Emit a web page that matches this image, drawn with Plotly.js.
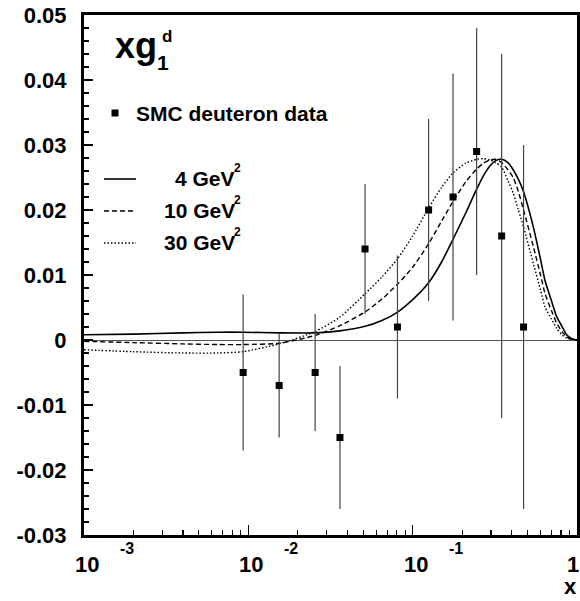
<!DOCTYPE html>
<html><head><meta charset="utf-8">
<script src="https://cdn.plot.ly/plotly-3.0.1.min.js"></script>
<style>html,body{margin:0;padding:0;background:#fff}#chart{width:580px;height:601px}</style>
</head><body><div id="chart"></div>
<script>
// ---- data ----
const dataName = 'SMC deuteron data';
const dataX   = [0.0093, 0.0154, 0.0255, 0.0361, 0.0513, 0.0808, 0.125, 0.176, 0.245, 0.348, 0.473];
const dataY   = [-0.005, -0.007, -0.005, -0.015, 0.014, 0.002, 0.020, 0.022, 0.029, 0.016, 0.002];
const dataErr = [0.012, 0.008, 0.009, 0.011, 0.010, 0.011, 0.014, 0.019, 0.019, 0.028, 0.028];

const curveX  = [0.001, 0.002, 0.004, 0.0065, 0.0093, 0.0154, 0.0255, 0.036, 0.0513, 0.065, 0.081, 0.1, 0.125, 0.15, 0.176, 0.21, 0.245, 0.27, 0.296, 0.32, 0.348, 0.38, 0.409, 0.44, 0.473, 0.542, 0.6, 0.638, 0.7, 0.752, 0.81, 0.865, 0.93, 1.0];
const curve4  = [0.0008, 0.0009, 0.0011, 0.0012, 0.0012, 0.0011, 0.0011, 0.0014, 0.0021, 0.0030, 0.0043, 0.0062, 0.0088, 0.0120, 0.0155, 0.0195, 0.0232, 0.0253, 0.0268, 0.0276, 0.0278, 0.0273, 0.0262, 0.0247, 0.0228, 0.0174, 0.0124, 0.0092, 0.0060, 0.0036, 0.0021, 0.0008, 0.0002, 0.0];
const curve10 = [-0.0002, -0.0004, -0.0006, -0.0007, -0.0007, -0.0005, 0.0007, 0.0022, 0.0043, 0.0063, 0.0086, 0.0112, 0.0148, 0.0183, 0.0213, 0.0243, 0.0263, 0.0272, 0.0277, 0.0278, 0.0273, 0.0262, 0.0250, 0.0228, 0.0200, 0.0144, 0.0100, 0.0072, 0.0045, 0.0026, 0.0013, 0.0005, 0.0001, 0.0];
const curve30 = [-0.0015, -0.0018, -0.0020, -0.0020, -0.0018, -0.0006, 0.0013, 0.0035, 0.0071, 0.0097, 0.0125, 0.0160, 0.0203, 0.0235, 0.0257, 0.0272, 0.0278, 0.0279, 0.0277, 0.0273, 0.0266, 0.0245, 0.0226, 0.0200, 0.0174, 0.0118, 0.0077, 0.0051, 0.0032, 0.0018, 0.0008, 0.0003, 0.0001, 0.0];
const curveNames = ['4 GeV', '10 GeV', '30 GeV'];

const yTickVals = [-0.03, -0.02, -0.01, 0, 0.01, 0.02, 0.03, 0.04, 0.05];
const yTickText = ['-0.03', '-0.02', '-0.01', '0', '0.01', '0.02', '0.03', '0.04', '0.05'];
const xTickVals = [0.001, 0.01, 0.1, 1];
const xTickBase = ['10', '10', '10', '1'];
const xTickExp  = ['-3', '-2', '-1', ''];
const xMinorVals = [];
for (const d of [0.001, 0.01, 0.1]) for (let k = 2; k <= 9; k++) xMinorVals.push(+(d * k).toPrecision(3));

// ---- layout helpers (pixel -> paper) ----
const L = 84, R = 577, T = 15, B = 535, W = 580, H = 601;
const PX = p => (p - L) / (R - L);
const PY = p => (B - p) / (B - T);
const FONT = 'Liberation Sans, Arial, Helvetica, sans-serif';
const bold = (size) => ({family: FONT, size: size, color: '#000', weight: 700});

const traces = [
  {x: curveX, y: curve4, mode: 'lines', name: curveNames[0], line: {color: '#000', width: 1.6, shape: 'spline', smoothing: 0.6}, hoverinfo: 'skip'},
  {x: curveX, y: curve10, mode: 'lines', name: curveNames[1], line: {color: '#000', width: 1.4, dash: '5px,3px', shape: 'spline', smoothing: 0.6}, hoverinfo: 'skip'},
  {x: curveX, y: curve30, mode: 'lines', name: curveNames[2], line: {color: '#000', width: 1.4, dash: '1.5px,2px', shape: 'spline', smoothing: 0.6}, hoverinfo: 'skip'},
  {x: dataX, y: dataY, mode: 'markers', name: dataName,
   marker: {symbol: 'square', size: 7, color: '#000'},
   error_y: {type: 'data', array: dataErr, visible: true, thickness: 1.2, width: 0, color: '#444'}}
];

const ann = [];
// x tick labels: "10" with exponent
xTickVals.forEach((v, i) => {
  const last = (i === xTickVals.length - 1);
  ann.push({xref: 'x', yref: 'paper', x: Math.log10(v), y: PY(564), xshift: last ? 4 : 3, text: xTickBase[i], showarrow: false, font: bold(22), xanchor: last ? 'right' : 'center', yanchor: 'middle'});
  if (xTickExp[i]) ann.push({xref: 'x', yref: 'paper', x: Math.log10(v), y: PY(548), xshift: 43, text: xTickExp[i], showarrow: false, font: bold(16), xanchor: 'center', yanchor: 'middle'});
});
// axis title "x"
ann.push({xref: 'paper', yref: 'paper', x: PX(578), y: PY(600), text: 'x', showarrow: false, font: bold(22), xanchor: 'right', yanchor: 'bottom', borderpad: 0});
// plot label xg_1^d
ann.push({xref: 'paper', yref: 'paper', x: PX(113), y: PY(45), text: 'xg', showarrow: false, font: bold(36), xanchor: 'left', yanchor: 'middle'});
ann.push({xref: 'paper', yref: 'paper', x: PX(160), y: PY(37), text: 'd', showarrow: false, font: bold(17), xanchor: 'left', yanchor: 'middle'});
ann.push({xref: 'paper', yref: 'paper', x: PX(155), y: PY(62), text: '1', showarrow: false, font: bold(21), xanchor: 'left', yanchor: 'middle'});
// legend texts
ann.push({xref: 'paper', yref: 'paper', x: PX(134), y: PY(113), text: dataName, showarrow: false, font: bold(21), xanchor: 'left', yanchor: 'middle'});
const legY = [179, 211, 243];
curveNames.forEach((n, i) => {
  ann.push({xref: 'paper', yref: 'paper', x: PX(237), y: PY(legY[i] - 1), text: n, showarrow: false, font: bold(21), xanchor: 'right', yanchor: 'middle'});
  ann.push({xref: 'paper', yref: 'paper', x: PX(232), y: PY(legY[i] - 11), text: '2', showarrow: false, font: bold(12), xanchor: 'left', yanchor: 'middle'});
});

const shapes = [
  {type: 'rect', xref: 'paper', yref: 'paper', x0: PX(111.5), x1: PX(118.5), y0: PY(116.5), y1: PY(109.5), fillcolor: '#000', line: {width: 0}},
  {type: 'line', xref: 'paper', yref: 'paper', x0: PX(104), x1: PX(136), y0: PY(legY[0]), y1: PY(legY[0]), line: {color: '#000', width: 1.6}},
  {type: 'line', xref: 'paper', yref: 'paper', x0: PX(104), x1: PX(136), y0: PY(legY[1]), y1: PY(legY[1]), line: {color: '#000', width: 1.4, dash: '5px,3px'}},
  {type: 'line', xref: 'paper', yref: 'paper', x0: PX(104), x1: PX(136), y0: PY(legY[2]), y1: PY(legY[2]), line: {color: '#000', width: 1.4, dash: '1.5px,2px'}}
];

const layout = {
  width: W, height: H,
  margin: {l: L, r: W - R, t: T, b: H - B, pad: 0},
  paper_bgcolor: '#fff', plot_bgcolor: '#fff',
  showlegend: false,
  xaxis: {
    type: 'log', range: [-3, 0], showgrid: false, zeroline: false,
    showline: true, linecolor: '#000', linewidth: 3, mirror: true,
    ticks: 'inside', ticklen: 10, tickwidth: 1.2, tickcolor: '#000',
    tickmode: 'array', tickvals: xTickVals, showticklabels: false,
    minor: {tickmode: 'array', tickvals: xMinorVals, ticks: 'inside', ticklen: 5, tickwidth: 1.2, tickcolor: '#000', showgrid: false}
  },
  yaxis: {
    range: [-0.03, 0.05], showgrid: false,
    zeroline: true, zerolinecolor: '#555', zerolinewidth: 1,
    showline: true, linecolor: '#000', linewidth: 3, mirror: true,
    ticks: 'inside', ticklen: 9, tickwidth: 1.2, tickcolor: '#000',
    tickmode: 'array', tickvals: yTickVals, ticktext: yTickText,
    tickfont: bold(22), ticklabelstandoff: 10,
    minor: {dtick: 0.002, tick0: 0, ticks: 'inside', ticklen: 5, tickwidth: 1.2, tickcolor: '#000', showgrid: false}
  },
  annotations: ann,
  shapes: shapes
};

Plotly.newPlot('chart', traces, layout, {staticPlot: true, displayModeBar: false});
</script>
</body></html>
